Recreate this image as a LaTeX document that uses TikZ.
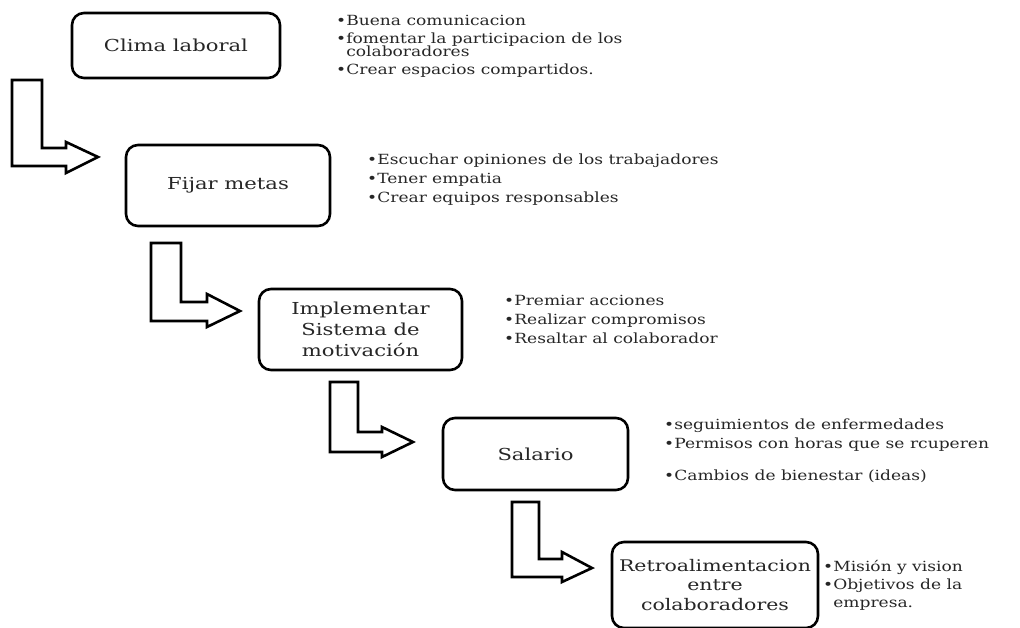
\documentclass[tikz,border=0pt]{standalone}
\usepackage{fontspec}
\setmainfont{DejaVu Serif}
\newfontfamily\wideserif[FakeStretch=1.22]{DejaVu Serif}
\newfontfamily\boxserif[FakeStretch=1.28]{DejaVu Serif}
\begin{document}
\begin{tikzpicture}[x=1pt,y=-1pt,
  box/.style={draw, line width=2.6pt, rounded corners=12pt, align=center,
    inner sep=0pt, text=black!85, font=\boxserif\fontsize{16.5}{21}\selectfont},
  barrow/.style={draw, line width=2.6pt, fill=white, line join=miter},
  item/.style={anchor=base west, inner sep=0pt, text=black!85,
    font=\wideserif\fontsize{14}{16}\selectfont}]
\useasboundingbox (0,0) rectangle (1020,628);

% boxes
\node[box, minimum width=208pt, minimum height=65pt] (b1) at (176,45.5) {Clima laboral};
\node[box, minimum width=204pt, minimum height=81pt] (b2) at (228,185.5) {Fijar metas};
\node[box, minimum width=203pt, minimum height=81pt] (b3) at (360.5,329.5) {Implementar\\Sistema de\\motivación};
\node[box, minimum width=185pt, minimum height=72pt] (b4) at (535.5,454) {Salario};
\node[box, minimum width=206pt, minimum height=86pt, font=\boxserif\fontsize{16}{19.5}\selectfont] (b5) at (715,585) {Retroalimentacion\\entre\\colaboradores};

% L-shaped block arrows
\draw[barrow] (12,80) -- (42,80) -- (42,148) -- (66,148) -- (66,142) -- (98,157) -- (66,173) -- (66,166) -- (12,166) -- cycle;
\draw[barrow] (151,243) -- (181,243) -- (181,302) -- (207,302) -- (207,294) -- (240,311) -- (207,327) -- (207,321) -- (151,321) -- cycle;
\draw[barrow] (330,382) -- (358,382) -- (358,432) -- (382,432) -- (382,427) -- (413,442) -- (382,457) -- (382,452) -- (330,452) -- cycle;
\draw[barrow] (512,502) -- (539,502) -- (539,559) -- (562,559) -- (562,552) -- (592,568) -- (562,582) -- (562,577) -- (512,577) -- cycle;

% bullet lists
\node[item] (t11) at (336,26) {•Buena comunicacion};
\node[item] (t12) at (336,44) {•fomentar la participacion de los};
\node[item] (t13) at (336,57) {\hphantom{•}colaboradores};
\node[item] (t14) at (336,75) {•Crear espacios compartidos.};

\node[item] (t21) at (367,165) {•Escuchar opiniones de los trabajadores};
\node[item] (t22) at (367,184) {•Tener empatia};
\node[item] (t23) at (367,203) {•Crear equipos responsables};

\node[item] (t31) at (504,306) {•Premiar acciones};
\node[item] (t32) at (504,325) {•Realizar compromisos};
\node[item] (t33) at (504,344) {•Resaltar al colaborador};

\node[item] (t41) at (664,429) {•seguimientos de enfermedades};
\node[item] (t42) at (664,448) {•Permisos con horas que se rcuperen};
\node[item] (t43) at (664,480) {•Cambios de bienestar (ideas)};

\node[item] (t51) at (823,571) {•Misión y vision};
\node[item] (t52) at (823,589) {•Objetivos de la};
\node[item] (t53) at (823,607) {\hphantom{•}empresa.};
\end{tikzpicture}
\end{document}
